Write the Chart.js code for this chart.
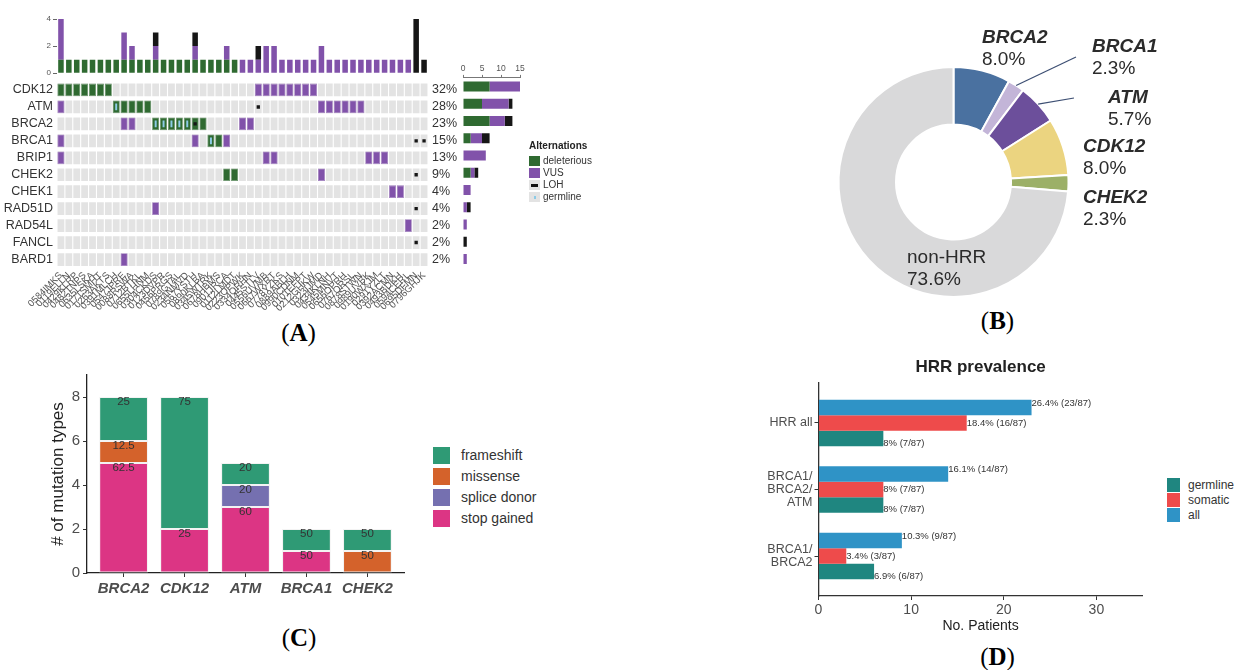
<!DOCTYPE html>
<html><head><meta charset="utf-8">
<script src="https://cdn.jsdelivr.net/npm/chart.js@4.4.1/dist/chart.umd.min.js"></script>
<style>
html,body{margin:0;padding:0;background:#fff;}
body{width:1234px;height:670px;position:relative;overflow:hidden;font-family:'Liberation Sans',Arial,sans-serif;}
canvas{position:absolute;}
.plbl{position:absolute;font-family:'Liberation Serif','Times New Roman',serif;font-size:25px;color:#000;transform:translate(-50%,-50%);white-space:nowrap;}
.leg{position:absolute;white-space:nowrap;color:#333;}
.sw{position:absolute;}
</style></head><body>
<div class="plbl" style="left:298.5px;top:333px">(<b>A</b>)</div>
<div class="plbl" style="left:997.5px;top:321px">(<b>B</b>)</div>
<div class="plbl" style="left:299px;top:638px">(<b>C</b>)</div>
<div class="plbl" style="left:997.5px;top:657px">(<b>D</b>)</div>
<script>
// ---------- DATA ----------
const sampleIds = ["0584IMKS","0119ELLN","0429KLRP","0482TNPS","0635LSKA","0171SMHT","0263AKTS","0391MLCH","0547JPRE","0088RSWA","0712BTKL","0655LHNM","0304CKDS","0123DVPR","0456PRGS","0789GTAL","0234NMVD","0567YSTH","0890KLBA","0345WTRK","0678HBMS","0901JRCA","0112LMDT","0223OPWK","0334QRHN","0445STLV","0556UVMB","0667WXRT","0778YZKS","0889ABLH","0990CDNM","0101EFPT","0212GHKW","0323IJMD","0434KLNH","0545MNVT","0656OPRH","0767QRSL","0878STWN","0989UVBK","0190WXJM","0291YZLT","0392ACMN","0493BDKH","0594CERL","0695DFMN","0796GHJK"];
const genes = ["CDK12","ATM","BRCA2","BRCA1","BRIP1","CHEK2","CHEK1","RAD51D","RAD54L","FANCL","BARD1"];
const genePct = ["32%","28%","23%","15%","13%","9%","4%","4%","2%","2%","2%"];
// sample (column) indices per gene row
const deleteriousCells = [[0,1,2,3,4,5,6],[7,8,9,10,11],[12,13,14,15,16,17,18],[19,20],[],[21,22],[],[],[],[],[]];
const vusCells = [[25,26,27,28,29,30,31,32],[0,33,34,35,36,37,38],[8,9,23,24],[0,17,21],[0,26,27,39,40,41],[33],[42,43],[12],[44],[],[8]];
const lohCells = [[],[25],[17],[45,46],[],[45],[],[45],[],[45],[]];
const germlineCells = [[],[7],[12,13,14,15,16],[19],[],[],[],[],[],[],[]];
// per-sample counts (top bars)
const topDeleterious = [1,1,1,1,1,1,1,1,1,1,1,1,1,1,1,1,1,1,1,1,1,1,1,0,0,0,0,0,0,0,0,0,0,0,0,0,0,0,0,0,0,0,0,0,0,0,0];
const topVUS = [3,0,0,0,0,0,0,0,2,1,0,0,1,0,0,0,0,1,0,0,0,1,0,1,1,1,2,2,1,1,1,1,1,2,1,1,1,1,1,1,1,1,1,1,1,0,0];
const topLOH = [0,0,0,0,0,0,0,0,0,0,0,0,1,0,0,0,0,1,0,0,0,0,0,0,0,1,0,0,0,0,0,0,0,0,0,0,0,0,0,0,0,0,0,0,0,4,1];
const topTicks = [0,2,4];
// per-gene counts (side bars)
const sideDeleterious = [7,5,7,2,0,2,0,0,0,0,0];
const sideVUS = [8,7,4,3,6,1,2,1,1,0,1];
const sideLOH = [0,1,2,2,0,1,0,1,0,1,0];
const sideTicks = [0,5,10,15];
const altNames = ["deleterious","VUS","LOH","germline"];
// panel B
const hrrGenes = ["BRCA2","BRCA1","ATM","CDK12","CHEK2","non-HRR"];
const hrrShare = [8.0,2.3,5.7,8.0,2.3,73.6];
// panel C
const mutGenes = ["BRCA2","CDK12","ATM","BRCA1","CHEK2"];
const stopGained = [5,2,3,1,0];
const missense = [1,0,0,0,1];
const spliceDonor = [0,0,1,0,0];
const frameshift = [2,6,1,1,1];
const mutTicks = [0,2,4,6,8];
const mutTypes = ["frameshift","missense","splice donor","stop gained"];
// panel D
const prevCats = ["HRR all", ["BRCA1/","BRCA2/","ATM"], ["BRCA1/","BRCA2"]];
const prevAll = [23,14,9];
const prevSomatic = [16,7,3];
const prevGermline = [7,7,6];
const prevTotal = 87;
const prevTicks = [0,10,20,30];
const prevGroups = ["germline","somatic","all"];

// ---------- STYLE ----------
const FONT = "'Liberation Sans', Arial, sans-serif";
Chart.defaults.font.family = FONT;
Chart.defaults.animation = false;
Chart.defaults.responsive = false;
Chart.defaults.maintainAspectRatio = false;
Chart.defaults.devicePixelRatio = 1;
Chart.defaults.events = [];
Chart.defaults.plugins.legend.display = false;
Chart.defaults.plugins.tooltip.enabled = false;

const cDel = '#2f6a31', cVus = '#8152aa', cLoh = '#161616', cGerm = '#8ccbe6', cBg = '#e3e3e3';

function mk(left, top, w, h) {
  const c = document.createElement('canvas');
  c.width = w; c.height = h;
  c.style.left = left + 'px'; c.style.top = top + 'px';
  c.style.width = w + 'px'; c.style.height = h + 'px';
  document.body.appendChild(c);
  return c.getContext('2d');
}
function div(cls, left, top, css, html) {
  const d = document.createElement('div');
  d.className = cls; d.style.left = left + 'px'; d.style.top = top + 'px';
  if (css) d.style.cssText += css;
  if (html !== undefined) d.innerHTML = html;
  document.body.appendChild(d);
  return d;
}

// ---------- PANEL A: top bars ----------
new Chart(mk(0, 0, 470, 80), {
  type: 'bar',
  data: { labels: sampleIds, datasets: [
    { data: topDeleterious, backgroundColor: cDel },
    { data: topVUS, backgroundColor: cVus },
    { data: topLOH, backgroundColor: cLoh }
  ]},
  options: {
    datasets: { bar: { barPercentage: 0.7, categoryPercentage: 1 } },
    layout: { padding: { top: 19, right: 42, bottom: 5, left: 0 } },
    scales: {
      x: { stacked: true, display: false, offset: true },
      y: { stacked: true, min: 0, max: 4,
        afterBuildTicks: s => { s.ticks = topTicks.map(v => ({ value: v })); },
        ticks: { font: { size: 8 }, color: '#555', padding: 2 },
        grid: { drawOnChartArea: false, tickLength: 4, color: '#666' },
        border: { display: false },
        afterFit: s => { s.width = 57; } }
    }
  }
});

// ---------- PANEL A: heatmap ----------
const rowHalf = 0.375;
const cell = (r, c, h) => ({ x: sampleIds[c], y: [r - h, r + h] });
const bgData = [];
genes.forEach((g, r) => sampleIds.forEach((s, c) => bgData.push(cell(r, c, rowHalf))));
const fromCells = (cells, h) => { const out = []; cells.forEach((cols, r) => cols.forEach(c => out.push(cell(r, c, h)))); return out; };
const rowTicks = s => { s.ticks = genes.map((g, i) => ({ value: i })); };

new Chart(mk(0, 70, 470, 260), {
  type: 'bar',
  data: { labels: sampleIds, datasets: [
    { data: bgData, backgroundColor: cBg, barPercentage: 0.86, order: 5 },
    { data: fromCells(deleteriousCells, rowHalf), backgroundColor: cDel, borderColor: '#6f9a70', borderWidth: 0.8, borderSkipped: false, barPercentage: 0.9, order: 4 },
    { data: fromCells(vusCells, rowHalf), backgroundColor: cVus, borderColor: '#a785c4', borderWidth: 0.8, borderSkipped: false, barPercentage: 0.9, order: 3 },
    { data: fromCells(germlineCells, 0.2), backgroundColor: cGerm, barPercentage: 0.25, order: 2 },
    { data: fromCells(lohCells, 0.1), backgroundColor: cLoh, barPercentage: 0.42, order: 1 }
  ]},
  options: {
    datasets: { bar: { grouped: false, categoryPercentage: 1 } },
    layout: { padding: { top: 8, left: 0, right: 0, bottom: 0 } },
    scales: {
      x: { type: 'category', offset: true,
        grid: { display: false, drawTicks: false }, border: { display: false },
        ticks: { autoSkip: false, minRotation: 45, maxRotation: 45, font: { size: 9.5 }, color: '#555', padding: 2 },
        afterFit: s => { s.height = 62; } },
      y: { type: 'linear', reverse: true, min: -0.5, max: 10.5, afterBuildTicks: rowTicks,
        ticks: { callback: v => genes[v], font: { size: 12.5 }, color: '#333', padding: 4 },
        grid: { display: false, drawTicks: false }, border: { display: false },
        afterFit: s => { s.width = 57; } },
      y2: { type: 'linear', position: 'right', reverse: true, min: -0.5, max: 10.5, afterBuildTicks: rowTicks,
        ticks: { callback: v => genePct[v], font: { size: 12.5 }, color: '#333', padding: 4 },
        grid: { display: false, drawTicks: false }, border: { display: false },
        afterFit: s => { s.width = 42; } }
    }
  }
});

// ---------- PANEL A: side bars ----------
new Chart(mk(440, 60, 100, 215), {
  type: 'bar',
  data: { labels: genes, datasets: [
    { data: sideDeleterious, backgroundColor: cDel },
    { data: sideVUS, backgroundColor: cVus },
    { data: sideLOH, backgroundColor: cLoh }
  ]},
  options: {
    indexAxis: 'y',
    datasets: { bar: { barPercentage: 0.58, categoryPercentage: 1 } },
    layout: { padding: { left: 23, right: 20, top: 0, bottom: 7.4 } },
    scales: {
      y: { stacked: true, display: false, offset: true },
      x: { stacked: true, position: 'top', min: 0, max: 15,
        afterBuildTicks: s => { s.ticks = sideTicks.map(v => ({ value: v })); },
        ticks: { font: { size: 8.5 }, color: '#555', padding: 1, maxRotation: 0 },
        grid: { drawOnChartArea: false, tickLength: 3, color: '#777' },
        border: { color: '#777' },
        afterFit: s => { s.height = 17.9; } }
    }
  }
});

// legend A
div('leg', 529, 140, 'font-size:10px;font-weight:bold;color:#222;', 'Alternations');
const altColors = [cDel, cVus, null, null];
[161, 173, 185, 197].forEach((cy, i) => {
  div('sw', 529, cy - 5, 'width:11px;height:10px;background:' + (altColors[i] || '#e3e3e3') + ';');
  if (i === 2) div('sw', 531, cy - 1, 'width:7px;height:2.5px;background:#111;');
  if (i === 3) div('sw', 533.5, cy - 1.5, 'width:2px;height:3px;background:' + cGerm + ';');
  div('leg', 543, cy - 6.5, 'font-size:10px;line-height:12px;', altNames[i]);
});

// ---------- PANEL B: doughnut ----------
const pieColors = ['#4a71a0', '#c3b5d8', '#6c4f9b', '#ebd480', '#9cb067', '#d9d9da'];
const pieLayout = [
  { dx: 28.5, dy: -139, bold: true },
  { dx: 138.5, dy: -130, bold: true, line: [122.5, -125] },
  { dx: 154.5, dy: -79, bold: true, line: [120.5, -84] },
  { dx: 129.5, dy: -30, bold: true },
  { dx: 129.5, dy: 21, bold: true },
  { dx: -46.5, dy: 81, bold: false }
];
const pieLabels = {
  id: 'pieLabels',
  afterDraw(chart) {
    const ctx = chart.ctx;
    const arcs = chart.getDatasetMeta(0).data;
    ctx.save();
    arcs.forEach((arc, i) => {
      const L = pieLayout[i];
      const cx = arc.x, cy = arc.y;
      if (L.line) {
        const mid = (arc.startAngle + arc.endAngle) / 2;
        ctx.beginPath();
        ctx.strokeStyle = '#3d4f73'; ctx.lineWidth = 1.2;
        ctx.moveTo(cx + Math.cos(mid) * arc.outerRadius, cy + Math.sin(mid) * arc.outerRadius);
        ctx.lineTo(cx + L.line[0], cy + L.line[1]);
        ctx.stroke();
      }
      ctx.fillStyle = '#2b2b2b';
      ctx.textAlign = 'left'; ctx.textBaseline = 'alphabetic';
      ctx.font = (L.bold ? 'italic bold ' : '') + '19px ' + FONT;
      ctx.fillText(hrrGenes[i], cx + L.dx, cy + L.dy);
      ctx.font = '19px ' + FONT;
      ctx.fillText(hrrShare[i].toFixed(1) + '%', cx + L.dx, cy + L.dy + 22);
    });
    ctx.restore();
  }
};
new Chart(mk(800, 0, 434, 320), {
  type: 'doughnut',
  data: { labels: hrrGenes, datasets: [{ data: hrrShare, backgroundColor: pieColors, borderColor: '#fff', borderWidth: 2 }] },
  options: { cutout: '50%', layout: { padding: { left: 37.5, top: 66, right: 164.5, bottom: 22 } } },
  plugins: [pieLabels]
});

// ---------- PANEL C ----------
const segLabels = {
  id: 'segLabels',
  afterDatasetsDraw(chart) {
    const ctx = chart.ctx;
    const ds = chart.data.datasets;
    const totals = mutGenes.map((g, i) => ds.reduce((s, d) => s + d.data[i].y, 0));
    ctx.save();
    ctx.font = '11.5px ' + FONT; ctx.fillStyle = '#333';
    ctx.textAlign = 'center'; ctx.textBaseline = 'top';
    ds.forEach((d, di) => {
      chart.getDatasetMeta(di).data.forEach((el, i) => {
        const v = d.data[i].y;
        if (!v) return;
        ctx.fillText(String(Math.round(v / totals[i] * 1000) / 10), el.x, el.y - 1);
      });
    });
    ctx.restore();
  }
};
const mutColors = { 'stop gained': '#dc3584', 'missense': '#d4622b', 'splice donor': '#7570b0', 'frameshift': '#2f9a75' };
const pts = arr => arr.map((v, i) => ({ x: i + 1, y: v }));
new Chart(mk(40, 360, 380, 250), {
  type: 'bar',
  data: { datasets: [
    { label: 'stop gained', data: pts(stopGained), backgroundColor: mutColors['stop gained'] },
    { label: 'missense', data: pts(missense), backgroundColor: mutColors['missense'] },
    { label: 'splice donor', data: pts(spliceDonor), backgroundColor: mutColors['splice donor'] },
    { label: 'frameshift', data: pts(frameshift), backgroundColor: mutColors['frameshift'] }
  ]},
  options: {
    datasets: { bar: { barPercentage: 1, categoryPercentage: 0.8, borderColor: '#f3f3f3', borderWidth: 1, borderSkipped: false } },
    layout: { padding: { top: 15, right: 16, left: 0, bottom: 0 } },
    scales: {
      x: { type: 'linear', stacked: true, min: 0.4, max: 5.6, offset: false,
        afterBuildTicks: s => { s.ticks = mutGenes.map((g, i) => ({ value: i + 1 })); },
        ticks: { callback: v => mutGenes[v - 1], font: { size: 15, style: 'italic', weight: 'bold' }, color: '#4d4d4d', padding: 3, maxRotation: 0 },
        grid: { drawOnChartArea: false, offset: false, tickLength: 4, color: '#333' },
        border: { color: '#222', width: 1.3 },
        afterFit: s => { s.height = 37; } },
      y: { stacked: true, min: 0, max: 9,
        afterBuildTicks: s => { s.ticks = mutTicks.map(v => ({ value: v })); },
        ticks: { font: { size: 15 }, color: '#4d4d4d', padding: 3 },
        grid: { drawOnChartArea: false, tickLength: 4, color: '#333' },
        border: { color: '#222', width: 1.3 },
        title: { display: true, text: '# of mutation types', font: { size: 17 }, color: '#222', padding: { top: 8, bottom: 0 } },
        afterFit: s => { s.width = 47; } }
    }
  },
  plugins: [segLabels]
});
// legend C
[447, 468, 489, 510].forEach((y, i) => {
  div('sw', 433, y, 'width:17px;height:17px;background:' + mutColors[mutTypes[i]] + ';');
  div('leg', 461, y, 'font-size:14px;line-height:17px;', mutTypes[i]);
});

// ---------- PANEL D ----------
const dLabels = {
  id: 'dLabels',
  afterDatasetsDraw(chart) {
    const ctx = chart.ctx, xs = chart.scales.x, ys = chart.scales.y;
    ctx.save();
    ctx.font = '9.5px ' + FONT; ctx.fillStyle = '#333';
    ctx.textAlign = 'left'; ctx.textBaseline = 'middle';
    chart.data.datasets.forEach((d, di) => {
      d.data.forEach((p, i) => {
        const pct = Math.round(p.x / prevTotal * 1000) / 10;
        ctx.fillText(pct + '% (' + p.x + '/' + prevTotal + ')', xs.getPixelForValue(p.x), ys.getPixelForValue(p.y + (di - 1) * 0.3));
      });
    });
    ctx.font = 'bold 17px ' + FONT; ctx.fillStyle = '#222';
    ctx.textAlign = 'center';
    ctx.fillText('HRR prevalence', (chart.chartArea.left + chart.chartArea.right) / 2, 17);
    ctx.restore();
  }
};
const dColors = { all: '#2f93c6', somatic: '#ee4b4b', germline: '#1f8680' };
const hpts = arr => arr.map((v, i) => ({ x: v, y: i + 1 }));
new Chart(mk(760, 350, 400, 285), {
  type: 'bar',
  data: { datasets: [
    { label: 'all', data: hpts(prevAll), backgroundColor: dColors.all },
    { label: 'somatic', data: hpts(prevSomatic), backgroundColor: dColors.somatic },
    { label: 'germline', data: hpts(prevGermline), backgroundColor: dColors.germline }
  ]},
  options: {
    indexAxis: 'y',
    datasets: { bar: { barPercentage: 1, categoryPercentage: 0.7 } },
    layout: { padding: { top: 33, right: 17.3, left: 0, bottom: 0 } },
    scales: {
      y: { type: 'linear', reverse: true, min: 0.4, max: 3.6, offset: false,
        afterBuildTicks: s => { s.ticks = prevCats.map((c, i) => ({ value: i + 1 })); },
        ticks: { callback: v => prevCats[v - 1], font: { size: 12.5, lineHeight: 1.05 }, color: '#4d4d4d', padding: 2 },
        grid: { drawOnChartArea: false, offset: false, tickLength: 4, color: '#333' },
        border: { color: '#333', width: 1.3 },
        afterFit: s => { s.width = 58.5; } },
      x: { type: 'linear', min: 0, max: 35,
        afterBuildTicks: s => { s.ticks = prevTicks.map(v => ({ value: v })); },
        ticks: { font: { size: 14 }, color: '#4d4d4d', padding: 2 },
        grid: { drawOnChartArea: false, tickLength: 4, color: '#333' },
        border: { color: '#333', width: 1.3 },
        title: { display: true, text: 'No. Patients', font: { size: 14 }, color: '#222', padding: 0 },
        afterFit: s => { s.height = 39; } }
    }
  },
  plugins: [dLabels]
});
// legend D
[478, 493, 508].forEach((y, i) => {
  div('sw', 1167, y, 'width:13px;height:14px;background:' + dColors[prevGroups[i]] + ';');
  div('leg', 1188, y, 'font-size:12px;line-height:14px;', prevGroups[i]);
});
</script>
</body></html>
